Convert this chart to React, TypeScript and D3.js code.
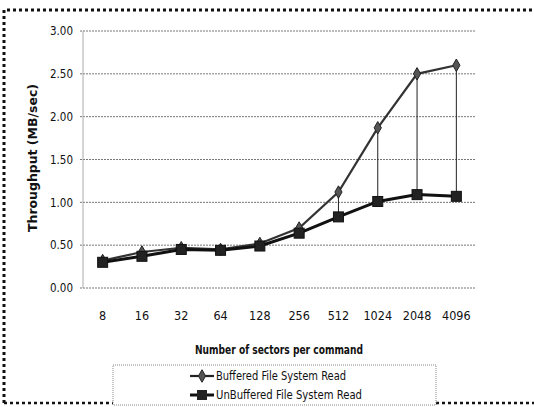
import React from "react";
import * as d3 from "d3";

const categories = ["8", "16", "32", "64", "128", "256", "512", "1024", "2048", "4096"];
const bufferedValues = [0.32, 0.42, 0.47, 0.45, 0.52, 0.70, 1.12, 1.87, 2.50, 2.60];
const unbufferedValues = [0.30, 0.37, 0.45, 0.44, 0.49, 0.64, 0.83, 1.01, 1.09, 1.07];
const yTicks = [0, 0.5, 1.0, 1.5, 2.0, 2.5, 3.0];
const seriesNames = ["Buffered File System Read", "UnBuffered File System Read"];

const FONT = "'Liberation Sans Narrow', 'DejaVu Sans Condensed', 'Open Sans', sans-serif";

export default function App() {
  const W = 534, H = 407;
  const x = d3.scaleBand<string>().domain(categories).range([83, 476]);
  const y = d3.scaleLinear().domain([0, 3]).range([288, 31]);
  const cx = (c: string) => (x(c) as number) + x.bandwidth() / 2;
  const line = d3.line<number>().x((_, i) => cx(categories[i])).y((d) => y(d));
  const diamond = d3.symbol().type(d3.symbolDiamond).size(45)();

  return (
    <svg width={W} height={H} style={{ position: "absolute", left: 0, top: 0, background: "#fff" }}>
      <rect x={0} y={0} width={W} height={H} fill="#fff" />
      {/* outer dashed border */}
      <path d={`M4,403 L4,10 L540,10`} fill="none" stroke="#111" strokeWidth={3} strokeDasharray="3,3" />
      <path d={`M4,403 L540,403`} fill="none" stroke="#111" strokeWidth={2.5} strokeDasharray="3,3" />
      {/* gridlines */}
      {yTicks.map((t) => (
        <line key={t} x1={80} x2={476} y1={y(t)} y2={y(t)} stroke="#777" strokeWidth={1} strokeDasharray="2,1" />
      ))}
      {/* y axis */}
      <line x1={83} x2={83} y1={31} y2={288} stroke="#aaa" strokeWidth={1} />
      {yTicks.map((t) => (
        <text key={t} x={73} y={y(t)} dy="0.35em" textAnchor="end" fontFamily={FONT} fontSize={12} fill="#111" textLength={23} lengthAdjust="spacingAndGlyphs">
          {t.toFixed(2)}
        </text>
      ))}
      {categories.map((c) => (
        <text key={c} x={cx(c)} y={320} textAnchor="middle" fontFamily={FONT} fontSize={12.5} fill="#111">
          {c}
        </text>
      ))}
      <text x={279} y={354} textAnchor="middle" fontFamily={FONT} fontSize={12} fontWeight="bold" fill="#111" textLength={168} lengthAdjust="spacingAndGlyphs">
        Number of sectors per command
      </text>
      <text
        transform={`translate(37,158) rotate(-90)`}
        textAnchor="middle"
        fontFamily={FONT}
        fontSize={12}
        fontWeight="bold"
        fill="#111"
        textLength={148}
        lengthAdjust="spacingAndGlyphs"
      >
        Throughput (MB/sec)
      </text>
      {/* high-low lines */}
      {categories.map((c, i) => (
        <line key={c} x1={cx(c)} x2={cx(c)} y1={y(bufferedValues[i])} y2={y(unbufferedValues[i])} stroke="#222" strokeWidth={1} />
      ))}
      <path d={line(bufferedValues) || ""} fill="none" stroke="#333" strokeWidth={2.2} />
      <path d={line(unbufferedValues) || ""} fill="none" stroke="#111" strokeWidth={3} />
      {bufferedValues.map((v, i) => (
        <path key={i} d={diamond || ""} transform={`translate(${cx(categories[i])},${y(v)})`} fill="#555" stroke="#222" strokeWidth={1} />
      ))}
      {unbufferedValues.map((v, i) => (
        <rect key={i} x={cx(categories[i]) - 5} y={y(v) - 5} width={10} height={10} fill="#222" stroke="#111" />
      ))}
      {/* legend */}
      <rect x={113} y={365} width={323} height={40} fill="#fff" stroke="#888" strokeDasharray="1,1" />
      <g>
        <line x1={190} x2={214} y1={376} y2={376} stroke="#222" strokeWidth={2.2} />
        <path d={diamond || ""} transform="translate(202,376)" fill="#555" stroke="#222" />
        <text x={216} y={376} dy="0.35em" fontFamily={FONT} fontSize={12} fill="#111" textLength={130} lengthAdjust="spacingAndGlyphs">{seriesNames[0]}</text>
        <line x1={190} x2={214} y1={395} y2={395} stroke="#111" strokeWidth={3} />
        <rect x={197} y={390} width={10} height={10} fill="#222" />
        <text x={216} y={395} dy="0.35em" fontFamily={FONT} fontSize={12} fill="#111" textLength={146} lengthAdjust="spacingAndGlyphs">{seriesNames[1]}</text>
      </g>
    </svg>
  );
}
